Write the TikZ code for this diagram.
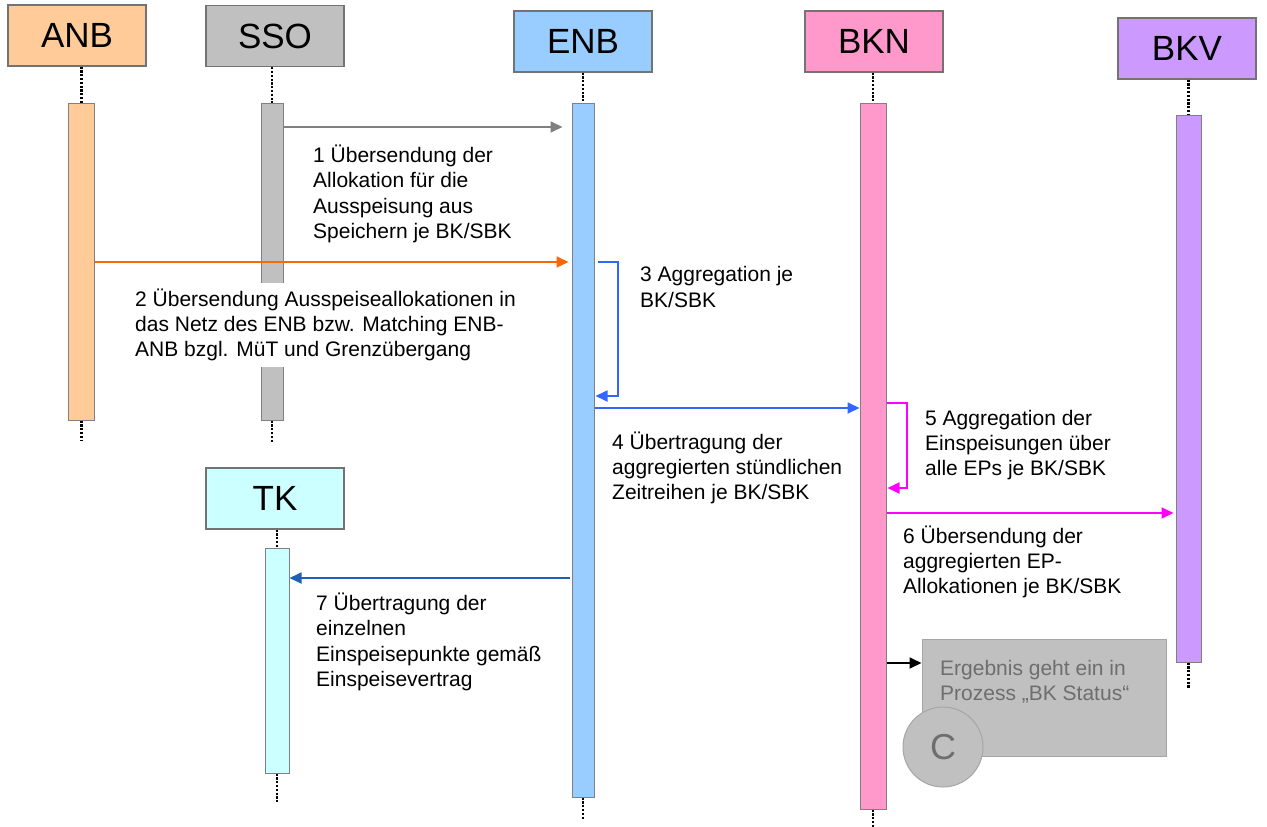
\documentclass[tikz,border=0pt]{standalone}
\usepackage{fontspec}
\setmainfont{Liberation Sans}
\usetikzlibrary{arrows.meta}
\definecolor{cANB}{HTML}{FFCC99}
\definecolor{cSSO}{HTML}{C0C0C0}
\definecolor{cENB}{HTML}{99CCFF}
\definecolor{cBKN}{HTML}{FF99CC}
\definecolor{cBKV}{HTML}{CC99FF}
\definecolor{cTK}{HTML}{CCFFFF}
\definecolor{cOrange}{HTML}{FF6600}
\definecolor{cBlue}{HTML}{3366FF}
\definecolor{cDarkBlue}{HTML}{1F5FB4}
\definecolor{cMag}{HTML}{FF00FF}
\definecolor{cArrGray}{HTML}{808080}
\definecolor{cBoxGray}{HTML}{C0C0C0}
\definecolor{cBoxLine}{HTML}{A6A6A6}
\definecolor{cBoxText}{HTML}{6E6E6E}
\begin{document}
\begin{tikzpicture}[x=1pt,y=-1pt,
  header/.style={draw=black!55, line width=1.2pt, minimum width=138pt, minimum height=61pt, inner sep=0pt, font=\fontsize{35}{40}\selectfont},
  actbar/.style={draw=black!50, line width=1pt, inner sep=0pt},
  life/.style={line width=2.4pt, dash pattern=on 2.2pt off 1.6pt},
  msg/.style={line width=1.8pt, -{Triangle[length=12pt,width=11pt]}},
  lbl/.style={anchor=west, align=left, inner sep=0pt, font=\fontsize{21}{25.3}\selectfont}]
\useasboundingbox (0,0) rectangle (1267,827);
% headers
\node[header, fill=cANB] (anb) at (77,35.5) {ANB};
\node[header, fill=cSSO] (sso) at (275,36) {SSO};
\node[header, fill=cENB] (enb) at (583,41.5) {ENB};
\node[header, fill=cBKN] (bkn) at (874,41.5) {BKN};
\node[header, fill=cBKV] (bkv) at (1187,48.5) {BKV};
\node[header, fill=cTK] (tk) at (275,498.5) {TK};
% activation bars
\node[actbar, fill=cANB, minimum width=26pt, minimum height=317pt] (anbbar) at (81.5,261.5) {};
\node[actbar, fill=cSSO, minimum width=22pt, minimum height=317pt] (ssobar) at (272,261.5) {};
\node[actbar, fill=cENB, minimum width=22pt, minimum height=694pt] (enbbar) at (583,450) {};
\node[actbar, fill=cBKN, minimum width=26pt, minimum height=706pt] (bknbar) at (873,456) {};
\node[actbar, fill=cBKV, minimum width=25pt, minimum height=547pt] (bkvbar) at (1188.5,388.5) {};
\node[actbar, fill=cTK, minimum width=24pt, minimum height=225pt] (tkbar) at (277,660.5) {};
% lifelines
\coordinate (anbend) at (81.5,441);
\coordinate (ssoend) at (272,443);
\coordinate (enbend) at (583,820);
\coordinate (bknend) at (873,827);
\coordinate (bkvend) at (1188.5,688);
\coordinate (tkend) at (277,803);
\draw[life] (anbbar.north |- anb.south) -- (anbbar.north);
\draw[life] (anbbar.south) -- (anbend);
\draw[life] (ssobar.north |- sso.south) -- (ssobar.north);
\draw[life] (ssobar.south) -- (ssoend);
\draw[life] (enb.south) -- (enbbar.north);
\draw[life] (enbbar.south) -- (enbend);
\draw[life] (bknbar.north |- bkn.south) -- (bknbar.north);
\draw[life] (bknbar.south) -- (bknend);
\draw[life] (bkvbar.north |- bkv.south) -- (bkvbar.north);
\draw[life] (bkvbar.south) -- (bkvend);
\draw[life] (tkbar.north |- tk.south) -- (tkbar.north);
\draw[life] (tkbar.south) -- (tkend);
% messages
\draw[msg, cArrGray] (ssobar.east |- 0,127) -- ([xshift=-9pt]enbbar.west |- 0,127);
\node[lbl] (l1) at (313,194) {1 Übersendung der\\Allokation für die\\Ausspeisung aus\\Speichern je BK/SBK};
\draw[msg, cOrange] (anbbar.east |- 0,262) -- ([xshift=-3pt]enbbar.west |- 0,262);
\node[lbl, fill=white, inner ysep=6pt, inner xsep=2pt] (l2) at (133,325) {2 Übersendung Ausspeiseallokationen in\\das Netz des ENB bzw. Matching ENB-\\ANB bzgl. MüT und Grenzübergang};
\draw[msg, cBlue] ([xshift=3pt]enbbar.east |- 0,262) -- (618,262) -- (618,396) -- ([xshift=1pt]enbbar.east |- 0,396);
\node[lbl] (l3) at (640,287) {3 Aggregation je\\BK/SBK};
\draw[msg, cBlue] (enbbar.east |- 0,408) -- (bknbar.west |- 0,408);
\node[lbl] (l4) at (612,468) {4 Übertragung der\\aggregierten stündlichen\\Zeitreihen je BK/SBK};
\draw[msg, cMag] (bknbar.east |- 0,403) -- (907,403) -- (907,488) -- ([xshift=1pt]bknbar.east |- 0,488);
\node[lbl] (l5) at (925,445) {5 Aggregation der\\Einspeisungen über\\alle EPs je BK/SBK};
\draw[msg, cMag] (bknbar.east |- 0,513) -- ([xshift=-2pt]bkvbar.west |- 0,513);
\node[lbl] (l6) at (903,562) {6 Übersendung der\\aggregierten EP-\\Allokationen je BK/SBK};
\draw[msg, cDarkBlue] ([xshift=-2pt]enbbar.west |- 0,578) -- (tkbar.east |- 0,578);
\node[lbl] (l7) at (316,642) {7 Übertragung der\\einzelnen\\Einspeisepunkte gemäß\\Einspeisevertrag};
% result box
\node[draw=cBoxLine, fill=cBoxGray, line width=1pt, minimum width=244pt, minimum height=117pt, inner sep=0pt] (res) at (1044,697.5) {};
\node[lbl, text=cBoxText] (restext) at (940,682) {Ergebnis geht ein in\\Prozess „BK Status“};
\node[circle, draw=cBoxLine, fill=cBoxGray, line width=1pt, minimum size=80pt, inner sep=0pt, text=cBoxText, font=\fontsize{36}{40}\selectfont] (c) at (943,747) {C};
\draw[msg, black] (bknbar.east |- 0,663) -- (res.west |- 0,663);
\end{tikzpicture}
\end{document}
